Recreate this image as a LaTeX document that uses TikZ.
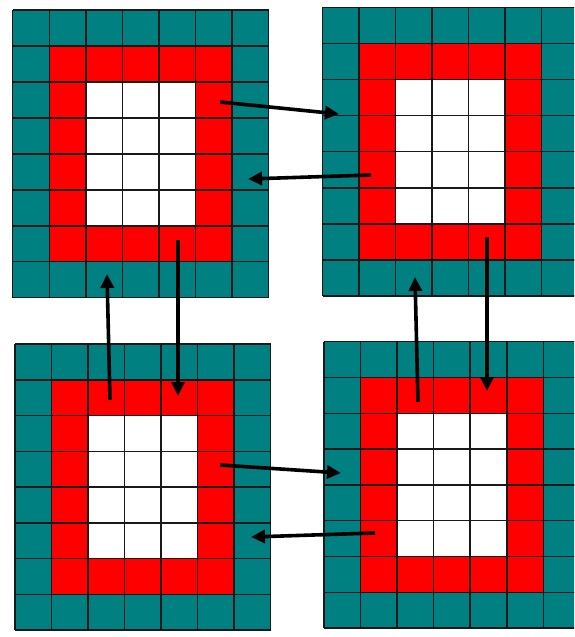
\documentclass[tikz,border=0pt]{standalone}
\usetikzlibrary{arrows.meta}
\definecolor{tealc}{RGB}{0,128,128}
\definecolor{redc}{RGB}{255,0,0}
\tikzset{
  gridline/.style={draw=black!90, line width=1.5pt},
  flow/.style={draw=black, line width=3.6pt, -{Triangle[length=14pt,width=13pt]}}
}
\begin{document}
\begin{tikzpicture}[x=1pt,y=-1pt]
\useasboundingbox (0,0) rectangle (574,637);
\fill[white] (0,0) rectangle (574,637);
\begin{scope}
\clip (0,0) rectangle (574,637);
\foreach \gx/\gy/\cw/\rh in {12.7/10/36.57/35.96, 322.7/7.3/36.5/36.1, 15/344/36.53/35.75, 324/341.7/36.55/35.8}{
  \fill[tealc] (\gx,\gy) rectangle ++(7*\cw,8*\rh);
  \fill[redc] (\gx+\cw,\gy+\rh) rectangle ++(5*\cw,6*\rh);
  \fill[white] (\gx+2*\cw,\gy+2*\rh) rectangle ++(3*\cw,4*\rh);
  \foreach \i in {0,...,7}{
    \draw[gridline] (\gx+\i*\cw,\gy) -- ++(0,8*\rh);
  }
  \foreach \j in {0,...,8}{
    \draw[gridline] (\gx,\gy+\j*\rh) -- ++(7*\cw,0);
  }
}
\end{scope}
% arrow endpoints
\coordinate (a1s) at (220,102);
\coordinate (a1e) at (339,114);
\coordinate (a2s) at (371,175);
\coordinate (a2e) at (248,179);
\coordinate (a3s) at (178,240);
\coordinate (a3e) at (178,396);
\coordinate (a4s) at (110,400);
\coordinate (a4e) at (107,274);
\coordinate (a5s) at (487,237);
\coordinate (a5e) at (487,391);
\coordinate (a6s) at (418,402);
\coordinate (a6e) at (415,277);
\coordinate (a7s) at (220,465);
\coordinate (a7e) at (341,473);
\coordinate (a8s) at (375,533);
\coordinate (a8e) at (251,537);
\draw[flow] (a1s) -- (a1e);
\draw[flow] (a2s) -- (a2e);
\draw[flow] (a3s) -- (a3e);
\draw[flow] (a4s) -- (a4e);
\draw[flow] (a5s) -- (a5e);
\draw[flow] (a6s) -- (a6e);
\draw[flow] (a7s) -- (a7e);
\draw[flow] (a8s) -- (a8e);
\end{tikzpicture}
\end{document}
